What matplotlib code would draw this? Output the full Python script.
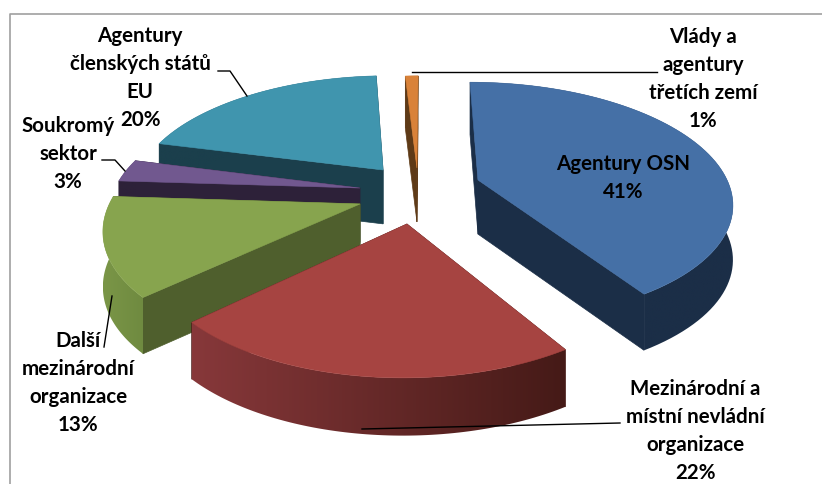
import numpy as np
import matplotlib.pyplot as plt
from matplotlib.patches import Polygon
from matplotlib.colors import LinearSegmentedColormap

plt.rcParams['font.family'] = ['Lato', 'DejaVu Sans']

# hodnoty a popisky
labels = ['Agentury OSN', 'Mezinárodní a\nmístní nevládní\norganizace', 'Další\nmezinárodní\norganizace',
          'Soukromý\nsektor', 'Agentury\nčlenských států\nEU', 'Vlády a\nagentury\ntřetích zemí']
values = [41, 22, 13, 3, 20, 1]

# posun vyseknutych dilu v rovine kolace
shift_x = [0.219, -0.07, -0.259, -0.266, -0.176, -0.034]
shift_y = [0.045, 0.414, 0.252, 0.116, -0.046, -0.064]
radius = [1.03, 0.99, 1.0, 1.0, 1.02, 1.0]

top_colors = ['#4570a6', '#a64441', '#87a44e', '#71588f', '#4095ae', '#d98239']
wall_colors = ['#1b2e47', '#4a1c19', '#4f5f2d', '#2d2139', '#1b3f4c', '#5e3a17']
arc_from = ['#1b2e47', '#87383a', '#7a9647', '#2d2139', '#1b3f4c', '#5e3a17']
arc_to = ['#1b2e47', '#451a17', '#6f8a40', '#2d2139', '#1b3f4c', '#5e3a17']
draw_order = [4, 5, 3, 2, 0, 1]

# pozice popisku
label_x = [623, 695, 78, 68, 140, 703]
label_y = [178, 431, 383, 154, 78, 79]

# vodici cary
leaders = [[(412, 72), (657, 72)],
           [(362, 429), (620, 423)],
           [(112, 296), (104, 347)],
           [(102, 160), (115, 160), (125, 171)],
           [(218, 71), (230, 71), (247, 96)]]

cx, cy = 425, 175
a, b, k = 240, 110, 0.17


def project(X, Y):
    s = 1 / (1 - k * Y)
    return cx + a * X * s, cy + b * Y * s, s


fig = plt.figure(figsize=(8.22, 4.84), dpi=100)
ax = fig.add_axes([0, 0, 1, 1])
ax.axis('off')

ax.plot([9.5, 9.5, 822], [484, 13.5, 13.5], color='#a0a0a0', lw=1.2, solid_capstyle='butt')

edges = np.cumsum([0] + values) / sum(values) * 2 * np.pi

for i in draw_order:
    layer = draw_order.index(i) * 3
    t = np.linspace(edges[i], edges[i + 1], 80)
    X = radius[i] * np.sin(t) + shift_x[i]
    Y = -radius[i] * np.cos(t) + shift_y[i]
    ox, oy, os_ = project(shift_x[i], shift_y[i])
    px, py, ps = project(X, Y)
    depth = 42 + 12 * ps
    odepth = 42 + 12 * os_

    # steny od stredu
    for j in (0, -1):
        wall = [(ox, oy), (px[j], py[j]), (px[j], py[j] + depth[j]), (ox, oy + odepth)]
        ax.add_patch(Polygon(wall, closed=True, fc=wall_colors[i], ec=wall_colors[i], lw=0.5, zorder=layer + 1))

    # oblouk s vodorovnym prechodem
    arc = list(zip(px, py)) + list(zip(px[::-1], (py + depth)[::-1]))
    outline = Polygon(arc, closed=True, fc='none', ec='none', zorder=layer + 2)
    ax.add_patch(outline)
    cmap = LinearSegmentedColormap.from_list('arc', [arc_from[i], arc_to[i]])
    img = ax.imshow(np.linspace(0, 1, 256).reshape(1, -1), cmap=cmap, aspect='auto', interpolation='bilinear',
                    extent=(px.min(), px.max(), (py + depth).max(), py.min()), zorder=layer + 2)
    img.set_clip_path(outline)

    # horni plocha
    pts = [(ox, oy)] + list(zip(px, py))
    ax.add_patch(Polygon(pts, closed=True, fc=top_colors[i], ec=top_colors[i], lw=0.4, zorder=layer + 3))

ax.set_xlim(0, 822)
ax.set_ylim(484, 0)

for line in leaders:
    xs, ys = zip(*line)
    ax.plot(xs, ys, color='black', lw=1.0, zorder=40)

for i in range(len(labels)):
    ax.text(label_x[i], label_y[i], f'{labels[i]}\n{values[i]}%', ha='center', va='center', fontsize=14.8,
            fontweight='bold', color='black', linespacing=1.52, zorder=50)

fig.savefig('out.png', dpi=100)
